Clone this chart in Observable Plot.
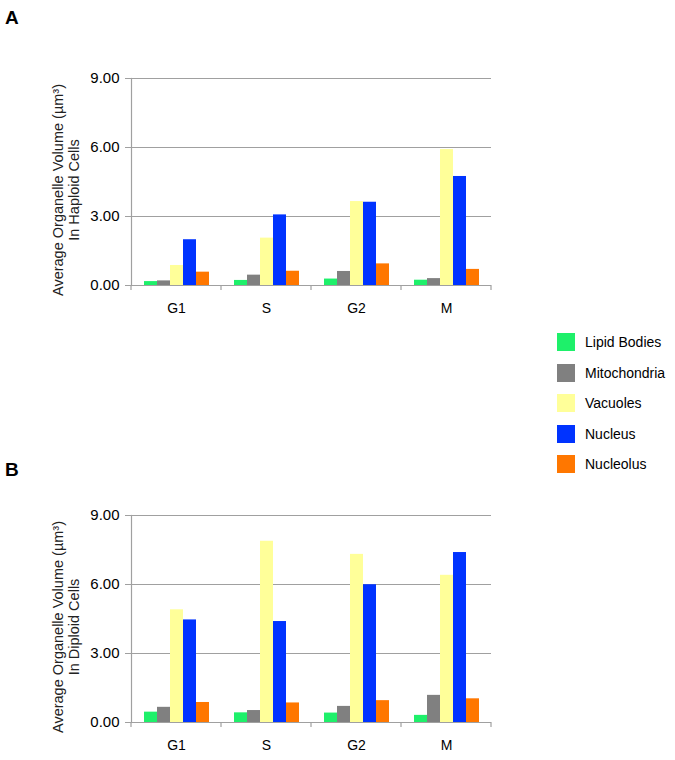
<!DOCTYPE html>
<html>
<head>
<meta charset="utf-8">
<script src="https://cdn.jsdelivr.net/npm/d3@7"></script>
<script src="https://cdn.jsdelivr.net/npm/@observablehq/plot@0.6"></script>
<style>
  body { margin: 0; background: #fff; font-family: "Liberation Sans", Arial, sans-serif; }
  #root { position: relative; width: 675px; height: 760px; overflow: hidden; }
  .panel { position: absolute; left: 0; z-index: 0; }
  .plabel { position: absolute; left: 5px; font-weight: bold; font-size: 19px; line-height: 19px; z-index: 2; }
  .legend { position: absolute; left: 557px; top: 333px; font-size: 14px; z-index: 2; }
  .legend .row { position: absolute; left: 0; height: 18px; white-space: nowrap; }
  .legend .sw { position: absolute; left: 0; top: 0; width: 18px; height: 18px; }
  .legend .tx { position: absolute; left: 28px; top: 1px; line-height: 16px; }
</style>
</head>
<body>
<div id="root"></div>
<script>
// ---- data ----
const phases = ["G1", "S", "G2", "M"];
const organelles = ["Lipid Bodies", "Mitochondria", "Vacuoles", "Nucleus", "Nucleolus"];
const organelleColors = ["#1ef06a", "#808080", "#ffff99", "#0033ff", "#ff7700"];
const yTicks = [0, 3, 6, 9];

// Haploid cells (panel A), values per phase G1, S, G2, M
const haploidLipidBodies = [0.17, 0.22, 0.28, 0.23];
const haploidMitochondria = [0.20, 0.45, 0.61, 0.30];
const haploidVacuoles     = [0.87, 2.06, 3.65, 5.91];
const haploidNucleus      = [1.99, 3.07, 3.62, 4.74];
const haploidNucleolus    = [0.58, 0.62, 0.94, 0.70];

// Diploid cells (panel B)
const diploidLipidBodies = [0.45, 0.42, 0.41, 0.31];
const diploidMitochondria = [0.66, 0.52, 0.70, 1.18];
const diploidVacuoles     = [4.90, 7.88, 7.31, 6.40];
const diploidNucleus      = [4.46, 4.39, 5.99, 7.39];
const diploidNucleolus    = [0.87, 0.85, 0.95, 1.03];

const haploidSeries = [haploidLipidBodies, haploidMitochondria, haploidVacuoles, haploidNucleus, haploidNucleolus];
const diploidSeries = [diploidLipidBodies, diploidMitochondria, diploidVacuoles, diploidNucleus, diploidNucleolus];

const yLabelHaploid = "Average Organelle Volume (µm³)\nIn Haploid Cells";
const yLabelDiploid = "Average Organelle Volume (µm³)\nIn Diploid Cells";

function toRows(series) {
  const rows = [];
  organelles.forEach((o, j) => phases.forEach((p, i) => rows.push({phase: p, organelle: o, value: series[j][i]})));
  return rows;
}

const axisGray = "#a0a0a0";

function panel(series, yLabel, height, marginTop, marginBottom) {
  const rows = toRows(series);
  const plot = Plot.plot({
    width: 675,
    height,
    marginLeft: 130,
    marginRight: 183,
    marginTop,
    marginBottom,
    style: {fontFamily: "'Liberation Sans', Arial, sans-serif", fontSize: "14px", color: "#000", background: "transparent", overflow: "visible"},
    fx: {domain: phases, padding: 0, label: null},
    x: {domain: organelles, paddingInner: 0, paddingOuter: 0.74, axis: null},
    y: {domain: [0, 9], label: null},
    color: {domain: organelles, range: organelleColors},
    marks: [
      Plot.ruleY(yTicks.filter(d => d > 0), {stroke: axisGray, strokeWidth: 1.2}),
      Plot.barY(rows, {fx: "phase", x: "organelle", y: "value", fill: "organelle"}),
      Plot.ruleY([0], {stroke: axisGray, strokeWidth: 1.2}),
      Plot.frame({anchor: "left", facetAnchor: "left", stroke: axisGray, strokeWidth: 1.2}),
      Plot.axisY({ticks: yTicks, tickFormat: d => d.toFixed(2), tickSize: 6, tickPadding: 6, fontSize: 15, stroke: axisGray, label: null}),
      Plot.axisFx({anchor: "bottom", tickSize: 0, tickPadding: 18, fontSize: 14, label: null}),
      Plot.text([yLabel], {text: d => d, frameAnchor: "left", facetAnchor: "left", rotate: -90, dx: -66, dy: 8,
        textAnchor: "middle", lineAnchor: "middle", lineHeight: 1.1, fontSize: 14.5, fill: "#222"})
    ]
  });
  // category boundary tick marks on the x axis, positioned from Plot's fx scale
  const fx = plot.scale("fx");
  const y = plot.scale("y");
  const y0 = y.apply(0);
  const bounds = phases.map(p => fx.apply(p)).concat([fx.apply(phases[phases.length - 1]) + fx.bandwidth]);
  d3.select(plot).append("g")
    .selectAll("line").data(bounds).join("line")
    .attr("x1", d => d).attr("x2", d => d)
    .attr("y1", y0).attr("y2", y0 + 5)
    .attr("stroke", axisGray).attr("stroke-width", 1.2);
  return plot;
}

const root = document.getElementById("root");

const plotA = panel(haploidSeries, yLabelHaploid, 330, 78, 45);
plotA.classList.add("panel"); plotA.style.top = "0px";
root.appendChild(plotA);

const plotB = panel(diploidSeries, yLabelDiploid, 320, 75, 38);
plotB.classList.add("panel"); plotB.style.top = "440px";
root.appendChild(plotB);

const lblA = document.createElement("div");
lblA.className = "plabel"; lblA.style.top = "8px"; lblA.textContent = "A";
root.appendChild(lblA);

const lblB = document.createElement("div");
lblB.className = "plabel"; lblB.style.top = "460px"; lblB.textContent = "B";
root.appendChild(lblB);

// legend
const legend = document.createElement("div");
legend.className = "legend";
organelles.forEach((o, i) => {
  const row = document.createElement("div");
  row.className = "row";
  row.style.top = (i * 30.5) + "px";
  const sw = document.createElement("div");
  sw.className = "sw"; sw.style.background = organelleColors[i];
  const tx = document.createElement("div");
  tx.className = "tx"; tx.textContent = o;
  row.appendChild(sw); row.appendChild(tx);
  legend.appendChild(row);
});
root.appendChild(legend);
</script>
</body>
</html>
